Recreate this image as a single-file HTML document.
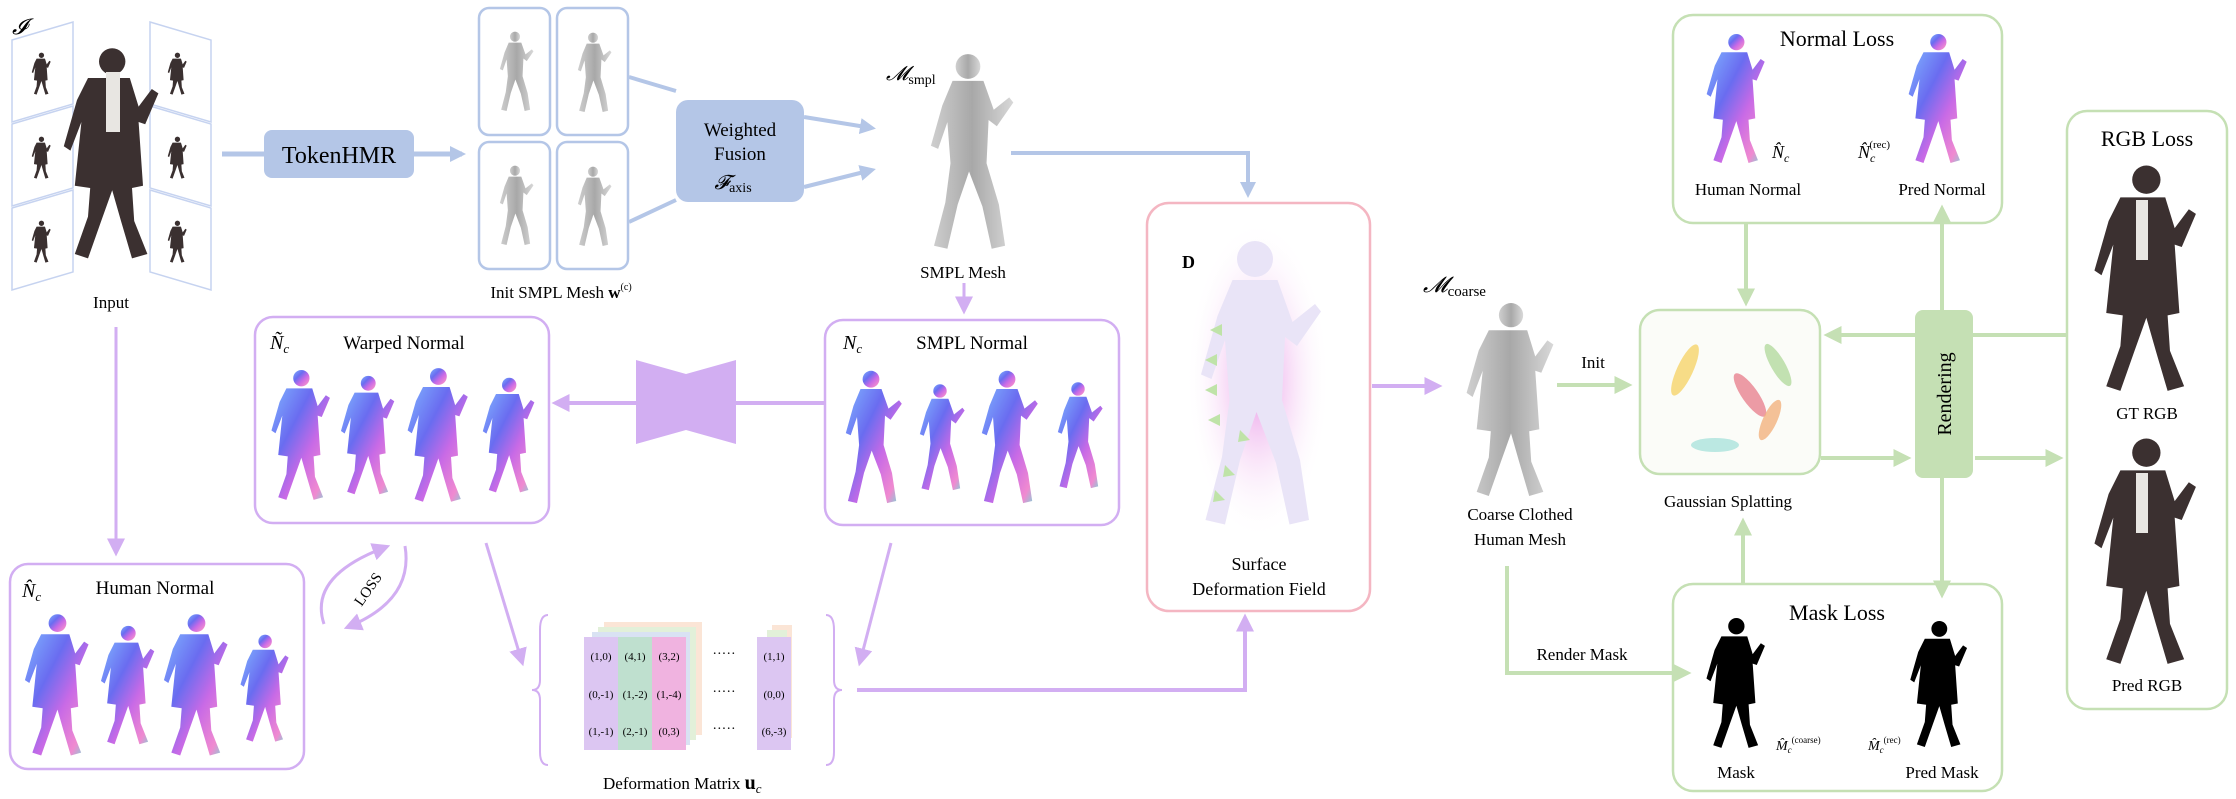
<!DOCTYPE html>
<html><head><meta charset="utf-8">
<style>
html,body{margin:0;padding:0;background:#fff;}
svg{display:block;font-family:"Liberation Serif",serif;}
</style></head>
<body>
<svg width="2236" height="799" viewBox="0 0 2236 799" xmlns="http://www.w3.org/2000/svg">
<defs>
  <marker id="ab" markerWidth="16" markerHeight="16" refX="6" refY="4" orient="auto" markerUnits="userSpaceOnUse" viewBox="0 0 8 8"><path d="M0,0 L8,4 L0,8 Z" fill="#b4c6e7"/></marker>
  <marker id="ap" markerWidth="18" markerHeight="18" refX="6" refY="4" orient="auto" markerUnits="userSpaceOnUse" viewBox="0 0 8 8"><path d="M0,0 L8,4 L0,8 Z" fill="#d2aef2"/></marker>
  <marker id="ag" markerWidth="18" markerHeight="18" refX="6" refY="4" orient="auto" markerUnits="userSpaceOnUse" viewBox="0 0 8 8"><path d="M0,0 L8,4 L0,8 Z" fill="#c5e0b4"/></marker>
  <linearGradient id="nrm" x1="0" y1="0" x2="1" y2="1">
    <stop offset="0" stop-color="#7fb2ff"/><stop offset="0.35" stop-color="#6a6cf0"/><stop offset="0.6" stop-color="#c86ae6"/><stop offset="0.85" stop-color="#f08ad0"/><stop offset="1" stop-color="#60e6d8"/>
  </linearGradient>
  <linearGradient id="gry" x1="0" y1="0" x2="1" y2="0">
    <stop offset="0" stop-color="#cfcfcf"/><stop offset="0.5" stop-color="#a8a8a8"/><stop offset="1" stop-color="#d8d8d8"/>
  </linearGradient>
  <radialGradient id="glow" cx="0.5" cy="0.5" r="0.5"><stop offset="0" stop-color="#e37be0"/><stop offset="1" stop-color="#fff" stop-opacity="0"/></radialGradient>
  <symbol id="man" viewBox="0 0 100 200">
    <circle cx="50" cy="16" r="12"/>
    <path d="M35,30 L65,30 L75,58 L90,46 L94,51 L78,74 L70,68 L68,110 L80,150 L86,190 L73,193 L64,152 L51,118 L40,150 L30,193 L17,190 L28,148 L33,110 L30,70 L21,96 L14,93 L25,54 Z"/>
  </symbol>
  <symbol id="coat" viewBox="0 0 100 200">
    <circle cx="52" cy="15" r="12"/>
    <path d="M30,30 L68,30 L76,56 L88,40 L94,44 L82,72 L76,70 L80,128 L70,130 L72,160 L84,190 L70,194 L60,160 L52,132 L42,160 L30,194 L18,190 L30,156 L32,130 L18,128 L24,70 L14,96 L8,92 L20,50 Z"/>
  </symbol>
</defs>

<g>
  <text x="12" y="34" font-size="22" font-style="italic">𝓘</text>
  <path d="M12,40 L73,22 L73,104 L12,122 Z M12,124 L73,106 L73,188 L12,206 Z M12,208 L73,190 L73,272 L12,290 Z" fill="none" stroke="#c6d3f0" stroke-width="1.5"/>
  <path d="M150,22 L211,40 L211,122 L150,104 Z M150,106 L211,124 L211,206 L150,188 Z M150,190 L211,208 L211,290 L150,272 Z" fill="none" stroke="#c6d3f0" stroke-width="1.5"/>
  <g fill="#3a3030">
    <use href="#coat" x="30" y="44" width="22" height="60"/>
    <use href="#coat" x="30" y="128" width="22" height="60"/>
    <use href="#coat" x="30" y="212" width="22" height="60"/>
    <use href="#coat" x="166" y="44" width="22" height="60"/>
    <use href="#coat" x="166" y="128" width="22" height="60"/>
    <use href="#coat" x="166" y="212" width="22" height="60"/>
  </g>
  <use href="#coat" x="55" y="30" width="110" height="250" fill="#3b3030"/>
  <rect x="106" y="72" width="14" height="60" fill="#e8e6e2"/>
  <text x="111" y="308" font-size="17" text-anchor="middle">Input</text>
</g>

<line x1="222" y1="154" x2="264" y2="154" stroke="#b4c6e7" stroke-width="5"/>
<g>
  <rect x="264" y="130" width="150" height="48" rx="8" fill="#b4c6e7"/>
  <text x="339" y="163" font-size="24" text-anchor="middle">TokenHMR</text>
</g>
<line x1="414" y1="154" x2="462" y2="154" stroke="#b4c6e7" stroke-width="5" marker-end="url(#ab)"/>

<g fill="none" stroke="#b4c6e7" stroke-width="2.5">
  <rect x="479" y="8" width="71" height="127" rx="10"/>
  <rect x="557" y="8" width="71" height="127" rx="10"/>
  <rect x="479" y="142" width="71" height="127" rx="10"/>
  <rect x="557" y="142" width="71" height="127" rx="10"/>
</g>
<g fill="url(#gry)">
  <use href="#man" x="494" y="16" width="42" height="112"/>
  <use href="#man" x="572" y="18" width="42" height="110"/>
  <use href="#man" x="494" y="150" width="42" height="112"/>
  <use href="#man" x="572" y="152" width="42" height="110"/>
</g>
<text x="561" y="298" font-size="17" text-anchor="middle">Init SMPL Mesh <tspan font-weight="bold">w</tspan><tspan font-size="10" dy="-8">(c)</tspan></text>

<path d="M629,77 L676,91 M629,222 L676,200" stroke="#b4c6e7" stroke-width="4"/>
<g>
  <rect x="676" y="100" width="128" height="102" rx="12" fill="#b4c6e7"/>
  <text x="740" y="136" font-size="19" text-anchor="middle">Weighted</text>
  <text x="740" y="160" font-size="19" text-anchor="middle">Fusion</text>
  <text x="733" y="189" font-size="20" font-style="italic" text-anchor="middle">𝓕<tspan font-size="14" font-style="normal" dy="3">axis</tspan></text>
</g>
<line x1="804" y1="117" x2="872" y2="128" stroke="#b4c6e7" stroke-width="4" marker-end="url(#ab)"/>
<line x1="804" y1="187" x2="872" y2="170" stroke="#b4c6e7" stroke-width="4" marker-end="url(#ab)"/>

<text x="886" y="80" font-size="20" font-style="italic">𝓜<tspan font-size="14" font-style="normal" dy="4">smpl</tspan></text>
<use href="#man" x="905" y="50" width="126" height="206" fill="url(#gry)"/>
<text x="963" y="278" font-size="17" text-anchor="middle">SMPL Mesh</text>
<line x1="964" y1="283" x2="964" y2="310" stroke="#d2aef2" stroke-width="3" marker-end="url(#ap)"/>

<polyline points="1011,153 1248,153 1248,194" fill="none" stroke="#b4c6e7" stroke-width="4" marker-end="url(#ab)"/>

<g>
  <rect x="825" y="320" width="294" height="205" rx="18" fill="#fff" stroke="#d2aef2" stroke-width="2.5"/>
  <text x="843" y="349" font-size="20" font-style="italic">N<tspan font-size="13" dy="4">c</tspan></text>
  <text x="972" y="349" font-size="19" text-anchor="middle">SMPL Normal</text>
  <g fill="url(#nrm)">
    <use href="#man" x="836" y="362" width="70" height="152"/>
    <use href="#man" x="912" y="362" width="56" height="152"/>
    <use href="#man" x="972" y="362" width="70" height="152"/>
    <use href="#man" x="1050" y="358" width="56" height="156"/>
  </g>
</g>

<line x1="825" y1="403" x2="556" y2="403" stroke="#d2aef2" stroke-width="4" marker-end="url(#ap)"/>
<path d="M636,360 L686,374 L736,360 L736,444 L686,430 L636,444 Z" fill="#d2aef2"/>

<g>
  <rect x="255" y="317" width="294" height="206" rx="18" fill="#fff" stroke="#d2aef2" stroke-width="2.5"/>
  <text x="270" y="349" font-size="20" font-style="italic">Ñ<tspan font-size="13" dy="4">c</tspan></text>
  <text x="404" y="349" font-size="19" text-anchor="middle">Warped Normal</text>
  <g fill="url(#nrm)">
    <use href="#coat" x="266" y="360" width="68" height="152"/>
    <use href="#coat" x="336" y="360" width="62" height="152"/>
    <use href="#coat" x="402" y="360" width="70" height="152"/>
    <use href="#coat" x="478" y="360" width="60" height="152"/>
  </g>
</g>

<line x1="116" y1="327" x2="116" y2="552" stroke="#d2aef2" stroke-width="3" marker-end="url(#ap)"/>

<g>
  <rect x="10" y="564" width="294" height="205" rx="18" fill="#fff" stroke="#d2aef2" stroke-width="2.5"/>
  <text x="22" y="597" font-size="20" font-style="italic">N̂<tspan font-size="13" dy="4">c</tspan></text>
  <text x="155" y="594" font-size="19" text-anchor="middle">Human Normal</text>
  <g fill="url(#nrm)">
    <use href="#coat" x="18" y="612" width="76" height="148"/>
    <use href="#coat" x="96" y="612" width="62" height="148"/>
    <use href="#coat" x="158" y="612" width="74" height="148"/>
    <use href="#coat" x="236" y="618" width="56" height="142"/>
  </g>
</g>

<g>
  <path d="M324,624 Q308,576 386,547" fill="none" stroke="#d2aef2" stroke-width="3" marker-end="url(#ap)"/>
  <path d="M405,546 Q414,600 348,627" fill="none" stroke="#d2aef2" stroke-width="3" marker-end="url(#ap)"/>
  <text x="372" y="592" font-size="15" text-anchor="middle" transform="rotate(-55 372 592)">LOSS</text>
</g>

<line x1="486" y1="543" x2="522" y2="662" stroke="#d2aef2" stroke-width="3" marker-end="url(#ap)"/>
<line x1="891" y1="543" x2="860" y2="662" stroke="#d2aef2" stroke-width="3" marker-end="url(#ap)"/>

<g font-size="11">
  <path d="M548,615 Q540,615 540,630 L540,680 Q540,690 532,690 Q540,690 540,700 L540,752 Q540,765 548,765" fill="none" stroke="#d2aef2" stroke-width="2"/>
  <path d="M826,615 Q834,615 834,630 L834,680 Q834,690 842,690 Q834,690 834,700 L834,752 Q834,765 826,765" fill="none" stroke="#d2aef2" stroke-width="2"/>
  <rect x="604" y="622" width="98" height="113" fill="#fbe5d6"/>
  <rect x="598" y="627" width="98" height="113" fill="#e2f0d9"/>
  <rect x="592" y="632" width="98" height="113" fill="#d9e2f3"/>
  <rect x="584" y="637" width="34" height="113" fill="#dcc6f2"/>
  <rect x="618" y="637" width="34" height="113" fill="#bfe0cf"/>
  <rect x="652" y="637" width="34" height="113" fill="#f0b3e0"/>
  <rect x="772" y="625" width="20" height="113" fill="#fbe5d6"/>
  <rect x="767" y="630" width="20" height="113" fill="#e2f0d9"/>
  <rect x="757" y="637" width="34" height="113" fill="#dcc6f2"/>
  <g text-anchor="middle">
    <text x="601" y="660">(1,0)</text><text x="635" y="660">(4,1)</text><text x="669" y="660">(3,2)</text><text x="724" y="658" font-size="14">·····</text><text x="774" y="660">(1,1)</text>
    <text x="601" y="698">(0,-1)</text><text x="635" y="698">(1,-2)</text><text x="669" y="698">(1,-4)</text><text x="724" y="696" font-size="14">·····</text><text x="774" y="698">(0,0)</text>
    <text x="601" y="735">(1,-1)</text><text x="635" y="735">(2,-1)</text><text x="669" y="735">(0,3)</text><text x="724" y="733" font-size="14">·····</text><text x="774" y="735">(6,-3)</text>
  </g>
  <text x="704" y="789" font-size="17">
    <tspan x="603">Deformation Matrix </tspan><tspan font-weight="bold" font-size="20">u</tspan><tspan font-style="italic" font-size="13" dy="4">c</tspan>
  </text>
</g>

<polyline points="857,690 1245,690 1245,618" fill="none" stroke="#d2aef2" stroke-width="4" marker-end="url(#ap)"/>

<g>
  <rect x="1147" y="203" width="223" height="408" rx="22" fill="#fff" stroke="#f4b6c2" stroke-width="2.5"/>
  <text x="1182" y="268" font-size="18" font-weight="bold">D</text>
  <ellipse cx="1258" cy="380" rx="72" ry="160" fill="url(#glow)" opacity="0.8"/>
  <use href="#man" x="1180" y="225" width="150" height="320" fill="#e9e4f7"/>
  <g fill="#bfe3a8">
    <path d="M1210,330 l12,-6 l0,12 Z M1205,360 l12,-6 l0,12 Z M1205,390 l12,-6 l0,12 Z M1208,420 l12,-6 l0,12 Z M1240,430 l10,10 l-12,2 Z M1225,465 l10,10 l-12,2 Z M1215,490 l10,10 l-12,2 Z"/>
  </g>
  <text x="1259" y="570" font-size="18" text-anchor="middle">Surface</text>
  <text x="1259" y="595" font-size="18" text-anchor="middle">Deformation Field</text>
</g>
<line x1="1372" y1="386" x2="1438" y2="386" stroke="#d2aef2" stroke-width="4" marker-end="url(#ap)"/>

<text x="1423" y="292" font-size="22" font-style="italic">𝓜<tspan font-size="15" font-style="normal" dy="4">coarse</tspan></text>
<use href="#coat" x="1455" y="300" width="108" height="202" fill="url(#gry)"/>
<text x="1520" y="520" font-size="17" text-anchor="middle">Coarse Clothed</text>
<text x="1520" y="545" font-size="17" text-anchor="middle">Human Mesh</text>
<text x="1593" y="368" font-size="17" text-anchor="middle">Init</text>

<g>
  <rect x="1640" y="310" width="180" height="164" rx="20" fill="#fbfcf8" stroke="#c5e0b4" stroke-width="2.5"/>
  <ellipse cx="1685" cy="370" rx="8" ry="28" fill="#f6d36a" opacity="0.8" transform="rotate(25 1685 370)"/>
  <ellipse cx="1750" cy="395" rx="8" ry="26" fill="#e98290" opacity="0.8" transform="rotate(-35 1750 395)"/>
  <ellipse cx="1778" cy="365" rx="7" ry="24" fill="#a9d693" opacity="0.7" transform="rotate(-30 1778 365)"/>
  <ellipse cx="1770" cy="420" rx="7" ry="22" fill="#f2b27e" opacity="0.8" transform="rotate(25 1770 420)"/>
  <ellipse cx="1715" cy="445" rx="24" ry="7" fill="#9fe0d8" opacity="0.7"/>
  <text x="1728" y="507" font-size="17" text-anchor="middle">Gaussian Splatting</text>
</g>

<g>
  <rect x="1915" y="310" width="58" height="168" rx="8" fill="#c5e0b4"/>
  <text x="1951" y="394" font-size="20" text-anchor="middle" transform="rotate(-90 1951 394)">Rendering</text>
</g>

<g>
  <rect x="1673" y="15" width="329" height="208" rx="20" fill="#fff" stroke="#c5e0b4" stroke-width="2.5"/>
  <text x="1837" y="46" font-size="22" text-anchor="middle">Normal Loss</text>
  <use href="#coat" x="1700" y="32" width="70" height="135" fill="url(#nrm)"/>
  <use href="#coat" x="1902" y="32" width="70" height="135" fill="url(#nrm)"/>
  <text x="1772" y="158" font-size="18" font-style="italic">N̂<tspan font-size="12" dy="4">c</tspan></text>
  <text x="1858" y="158" font-size="18" font-style="italic">N̂<tspan font-size="12" dy="4">c</tspan><tspan font-size="11" font-style="normal" dx="-6" dy="-14">(rec)</tspan></text>
  <text x="1748" y="195" font-size="17" text-anchor="middle">Human Normal</text>
  <text x="1942" y="195" font-size="17" text-anchor="middle">Pred Normal</text>
</g>

<g>
  <rect x="1673" y="584" width="329" height="207" rx="20" fill="#fff" stroke="#c5e0b4" stroke-width="2.5"/>
  <text x="1837" y="620" font-size="22" text-anchor="middle">Mask Loss</text>
  <use href="#coat" x="1700" y="616" width="70" height="136" fill="#000"/>
  <use href="#coat" x="1905" y="618" width="66" height="134" fill="#000"/>
  <text x="1776" y="750" font-size="14" font-style="italic">M̂<tspan font-size="9" dy="3">c</tspan><tspan font-size="9" font-style="normal" dy="-10">(coarse)</tspan></text>
  <text x="1868" y="750" font-size="14" font-style="italic">M̂<tspan font-size="9" dy="3">c</tspan><tspan font-size="9" font-style="normal" dy="-10">(rec)</tspan></text>
  <text x="1736" y="778" font-size="17" text-anchor="middle">Mask</text>
  <text x="1942" y="778" font-size="17" text-anchor="middle">Pred  Mask</text>
</g>

<g>
  <rect x="2067" y="111" width="160" height="598" rx="20" fill="#fff" stroke="#c5e0b4" stroke-width="2.5"/>
  <text x="2147" y="146" font-size="22" text-anchor="middle">RGB Loss</text>
  <use href="#coat" x="2085" y="162" width="118" height="236" fill="#3b3030"/>
  <rect x="2136" y="200" width="12" height="60" fill="#e8e6e2"/>
  <text x="2147" y="419" font-size="17" text-anchor="middle">GT RGB</text>
  <use href="#coat" x="2085" y="435" width="118" height="236" fill="#3b3030"/>
  <rect x="2136" y="473" width="12" height="60" fill="#e8e6e2"/>
  <text x="2147" y="691" font-size="17" text-anchor="middle">Pred  RGB</text>
</g>

<!-- green arrows drawn last so heads stay visible -->
<g stroke="#c5e0b4" stroke-width="4" fill="none">
  <line x1="1557" y1="385" x2="1628" y2="385" marker-end="url(#ag)"/>
  <line x1="1746" y1="224" x2="1746" y2="302" marker-end="url(#ag)"/>
  <line x1="1942" y1="310" x2="1942" y2="209" marker-end="url(#ag)"/>
  <line x1="1942" y1="478" x2="1942" y2="594" marker-end="url(#ag)"/>
  <line x1="1743" y1="583" x2="1743" y2="522" marker-end="url(#ag)"/>
  <line x1="2066" y1="335" x2="1828" y2="335" marker-end="url(#ag)"/>
  <line x1="1821" y1="458" x2="1907" y2="458" marker-end="url(#ag)"/>
  <line x1="1975" y1="458" x2="2059" y2="458" marker-end="url(#ag)"/>
  <polyline points="1507,566 1507,673 1687,673" marker-end="url(#ag)"/>
</g>
<text x="1582" y="660" font-size="17" text-anchor="middle">Render Mask</text>
</svg>
</body></html>
